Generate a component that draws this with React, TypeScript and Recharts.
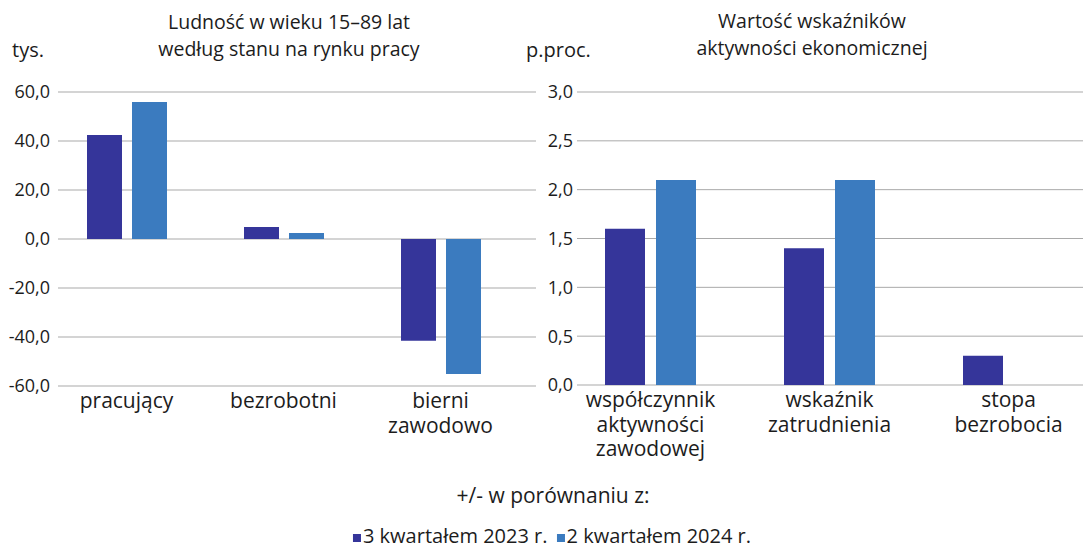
import { Bar, BarChart, CartesianGrid, XAxis, YAxis } from "recharts";

const leftCategories = ["pracujący", "bezrobotni", "bierni\nzawodowo"];
const leftQ3_2023 = [42.4, 4.9, -41.5];
const leftQ2_2024 = [55.9, 2.4, -55.1];
const leftTicks = [-60, -40, -20, 0, 20, 40, 60];

const rightCategories = ["współczynnik\naktywności\nzawodowej", "wskaźnik\nzatrudnienia", "stopa\nbezrobocia"];
const rightQ3_2023 = [1.6, 1.4, 0.3];
const rightQ2_2024 = [2.1, 2.1, 0];
const rightTicks = [0, 0.5, 1, 1.5, 2, 2.5, 3];

const DARK = "#35359a";
const LIGHT = "#3b7bbf";
const TEXT = "#1c1c1c";
const GRID = "#a9a9a9";
const FONT = "'Open Sans', sans-serif";

const leftData = leftCategories.map((name, i) => ({ name, q3: leftQ3_2023[i], q2: leftQ2_2024[i] }));
const rightData = rightCategories.map((name, i) => ({ name, q3: rightQ3_2023[i], q2: rightQ2_2024[i] }));

const fmt = (v: number, d: number) => v.toFixed(d).replace(".", ",");

function CategoryTick(props: any) {
  const { x, y, payload } = props;
  const lines = String(payload.value).split("\n");
  return (
    <text x={x} y={y} textAnchor="middle" fill={TEXT} fontSize={21} fontFamily={FONT}>
      {lines.map((l, i) => (
        <tspan key={i} x={x} dy={i === 0 ? 22 : 24.5}>
          {l}
        </tspan>
      ))}
    </text>
  );
}

const label = (extra: React.CSSProperties): React.CSSProperties => ({
  position: "absolute",
  whiteSpace: "nowrap",
  color: TEXT,
  fontFamily: FONT,
  fontSize: 19.5,
  lineHeight: "27px",
  ...extra,
});

export default function App() {
  return (
    <div
      style={{
        position: "absolute",
        left: 0,
        top: 0,
        width: 1083,
        height: 549,
        overflow: "hidden",
        background: "#fff",
      }}
    >
      <div style={label({ left: 289, top: 8, transform: "translateX(-50%)", textAlign: "center" })}>
        Ludność w wieku 15–89 lat
        <br />
        według stanu na rynku pracy
      </div>
      <div style={label({ left: 812, top: 7, transform: "translateX(-50%)", textAlign: "center" })}>
        Wartość wskaźników
        <br />
        aktywności ekonomicznej
      </div>
      <div style={label({ left: 12, top: 36, fontSize: 20 })}>tys.</div>
      <div style={label({ left: 526, top: 36, fontSize: 20 })}>p.proc.</div>

      <div style={{ position: "absolute", left: 0, top: 0 }}>
        <BarChart
          width={545}
          height={549}
          data={leftData}
          margin={{ top: 92, right: 26, bottom: 103, left: 0 }}
          barSize={35}
          barGap={10}
        >
          <CartesianGrid vertical={false} stroke={GRID} x={58} width={478} />
          <XAxis
            dataKey="name"
            axisLine={false}
            tickLine={false}
            tickSize={0}
            tickMargin={0}
            height={60}
            interval={0}
            tick={<CategoryTick />}
          />
          <YAxis
            domain={[-60, 60]}
            ticks={leftTicks}
            width={48}
            axisLine={false}
            tickLine={false}
            tickSize={0}
            tickMargin={-2}
            tickFormatter={(v) => fmt(v, 1)}
            tick={{ fontSize: 18, fill: TEXT, fontFamily: FONT }}
          />
          <Bar dataKey="q3" fill={DARK} isAnimationActive={false} />
          <Bar dataKey="q2" fill={LIGHT} isAnimationActive={false} />
        </BarChart>
      </div>

      <div style={{ position: "absolute", left: 500, top: 0 }}>
        <BarChart
          width={600}
          height={549}
          data={rightData}
          margin={{ top: 92, right: 2, bottom: 104, left: 0 }}
          barSize={40}
          barGap={11}
        >
          <CartesianGrid vertical={false} stroke={GRID} x={77} width={600} />
          <XAxis
            dataKey="name"
            axisLine={false}
            tickLine={false}
            tickSize={0}
            tickMargin={0}
            height={60}
            interval={0}
            tick={<CategoryTick />}
          />
          <YAxis
            domain={[0, 3]}
            ticks={rightTicks}
            width={61}
            axisLine={false}
            tickLine={false}
            tickSize={0}
            tickMargin={-12}
            tickFormatter={(v) => fmt(v, 1)}
            tick={{ fontSize: 18, fill: TEXT, fontFamily: FONT }}
          />
          <Bar dataKey="q3" fill={DARK} isAnimationActive={false} />
          <Bar dataKey="q2" fill={LIGHT} isAnimationActive={false} />
        </BarChart>
      </div>

      <div style={label({ left: 553, top: 482, fontSize: 21, transform: "translateX(-50%)" })}>
        +/- w porównaniu z:
      </div>
      <div
        style={label({
          left: 552,
          top: 527,
          fontSize: 20,
          lineHeight: "18px",
          transform: "translateX(-50%)",
          display: "flex",
          alignItems: "center",
        })}
      >
        <span style={{ display: "inline-block", width: 8, height: 8, background: DARK, marginRight: 2, marginTop: 4 }} />
        <span>3 kwartałem 2023 r.</span>
        <span
          style={{ display: "inline-block", width: 8, height: 8, background: LIGHT, marginLeft: 9, marginRight: 2, marginTop: 4 }}
        />
        <span>2 kwartałem 2024 r.</span>
      </div>
    </div>
  );
}
